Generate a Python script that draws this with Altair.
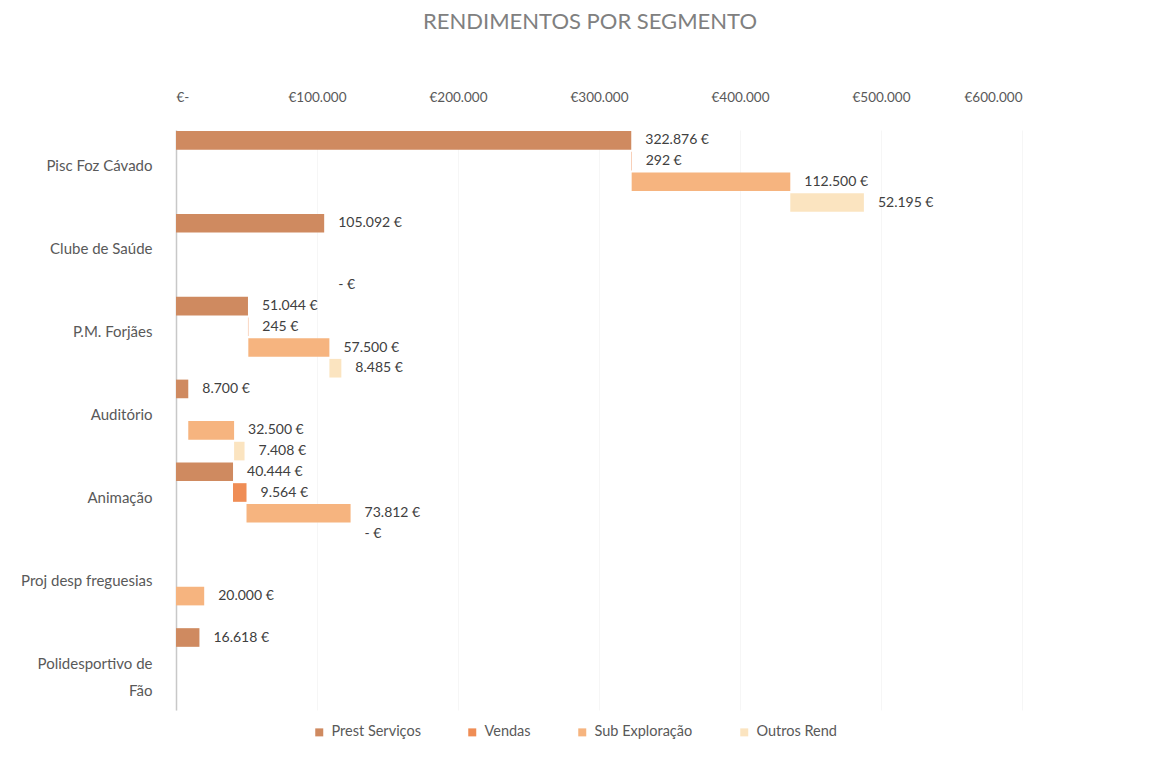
import altair as alt
import pandas as pd

categories = ["Pisc Foz Cávado", "Clube de Saúde", "P.M. Forjães", "Auditório",
              "Animação", "Proj desp freguesias", "Polidesportivo de Fão"]
series = ["Prest Serviços", "Vendas", "Sub Exploração", "Outros Rend"]
prest = [322876, 105092, 51044, 8700, 40444, 0, 16618]
vendas = [292, 0, 245, 0, 9564, 0, 0]
sub_expl = [112500, 0, 57500, 32500, 73812, 20000, 0]
outros = [52195, 0, 8485, 7408, 0, 0, 0]
zero_labels = [("Clube de Saúde", "Outros Rend"), ("Animação", "Outros Rend")]
colors = ["#cf8a60", "#ef8d55", "#f6b47f", "#fbe4c0"]

values_by_series = [prest, vendas, sub_expl, outros]


def fmt(v):
    if v == 0:
        return "-  €"
    return f"{v:,}".replace(",", ".") + " €"


rows = []
for i, cat in enumerate(categories):
    for j, s in enumerate(series):
        v = values_by_series[j][i]
        show = v != 0 or (cat, s) in zero_labels
        rows.append({"category": cat, "series": s, "order": j, "value": v,
                     "label": fmt(v), "show": show})
df = pd.DataFrame(rows)

FONT = "Lato"

base = alt.Chart(df).transform_window(
    end="sum(value)", sort=[alt.SortField("order")], groupby=["category"],
    frame=[None, 0]
).transform_calculate(start="datum.end - datum.value")

y_enc = alt.Y(
    "category:N", sort=categories, title=None,
    scale=alt.Scale(paddingInner=0, paddingOuter=0),
    axis=alt.Axis(
        domain=True, domainColor="#c8c8c8", domainWidth=1.5, ticks=False,
        labelPadding=24, labelFontSize=15, labelColor="#595959", labelOffset=-5,
        labelLineHeight=27, labelFont=FONT,
        labelExpr="datum.value == 'Polidesportivo de Fão' ? ['Polidesportivo de', 'Fão'] : datum.value",
    ),
)
yoff_enc = alt.YOffset("series:N", sort=series,
                       scale=alt.Scale(paddingInner=0.1, paddingOuter=0.05))

bars = base.mark_bar().encode(
    y=y_enc,
    yOffset=yoff_enc,
    x=alt.X(
        "start:Q", title=None,
        scale=alt.Scale(domain=[0, 600000], nice=False),
        axis=alt.Axis(
            orient="top", values=[0, 100000, 200000, 300000, 400000, 500000, 600000],
            domain=False, ticks=False, grid=True, gridColor="#f6f6f6",
            labelPadding=26, labelFontSize=13.5, labelColor="#595959", labelFont=FONT,
            labelExpr="datum.value == 0 ? '€-' : '€' + (datum.value / 1000) + '.000'",
        ),
    ),
    x2="end:Q",
    color=alt.Color(
        "series:N", sort=series, title=None,
        scale=alt.Scale(domain=series, range=colors),
        legend=alt.Legend(
            orient="none", direction="horizontal", legendX=136, legendY=595,
            symbolType="square", symbolSize=64, symbolStrokeWidth=0,
            labelFontSize=14.5, labelColor="#595959", labelFont=FONT,
            columnPadding=44, labelOffset=5,
        ),
    ),
)

labels = base.transform_filter("datum.show").mark_text(
    align="left", baseline="middle", dx=14, fontSize=14, color="#404040", font=FONT
).encode(
    y=alt.Y("category:N", sort=categories),
    yOffset=yoff_enc,
    x=alt.X("end:Q"),
    text="label:N",
)

chart = alt.layer(bars, labels).properties(
    width=846, height=580,
    title=alt.TitleParams(
        "RENDIMENTOS POR SEGMENTO", fontSize=22, color="#808080", font=FONT,
        fontWeight="normal", anchor="middle", offset=56, dx=-9,
    ),
    autosize=alt.AutoSizeParams(type="none"),
    padding={"left": 168, "top": 122, "right": 120, "bottom": 40},
).configure_view(stroke=None)

chart.save("out.html", embed_options={"renderer": "svg", "actions": False})
